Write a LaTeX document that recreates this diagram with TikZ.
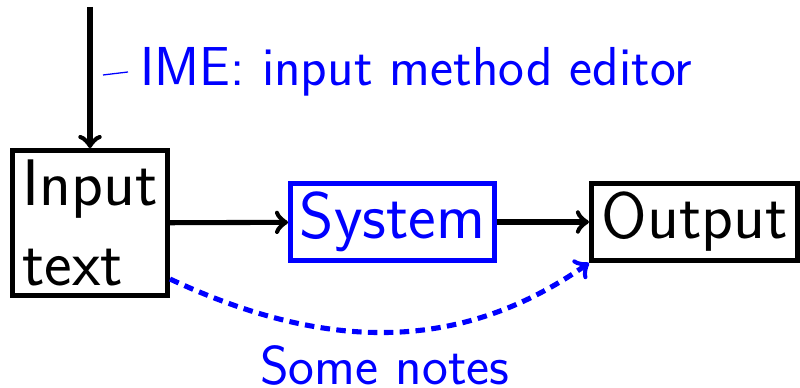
\documentclass[tikz,border=0pt]{standalone}
\usepackage{fontspec}
\newcommand\boxfont{\fontsize{20.74}{25}\selectfont}
\newcommand\notefont{\fontsize{17.28}{21}\selectfont}
\begin{document}
\begin{tikzpicture}[x=0.315pt,y=0.315pt,font=\sffamily,
  box/.style={draw,ultra thick,inner sep=0pt,font=\sffamily\boxfont},
  link/.style={ultra thick,->},
  note/.style={text=blue,font=\sffamily\notefont}]
  \useasboundingbox (0,0) rectangle (800,-388);

  % blocks
  \node[box,minimum width=48.8pt,minimum height=45.6pt,align=left] (input) at (90,-223) {Input\\text};
  \node[box,draw=blue,text=blue,minimum width=64.2pt,minimum height=24.2pt] (system) at (392.5,-222) {System};
  \node[box,minimum width=64.9pt,minimum height=24.2pt] (output) at (694.5,-222) {Output};

  % incoming arrow with its annotation
  \coordinate (top) at (90,-7);
  \draw[link] (top) -- (input);
  \coordinate (pinfoot) at (103,-75);
  \node[note,anchor=west,inner sep=3.8pt] (ime) at (128,-72) {IME: input method editor};
  \draw[blue,line width=0.4pt] (pinfoot) -- (ime.west);

  % main flow
  \draw[link] (input) -- (system);
  \draw[link] (system) -- (output);

  % side channel
  \draw[blue,ultra thick,densely dashed,->]
    (input.-35) to[out=-25,in=-145]
    node[note,below] (notes) {Some notes} (output.south west);
\end{tikzpicture}
\end{document}
